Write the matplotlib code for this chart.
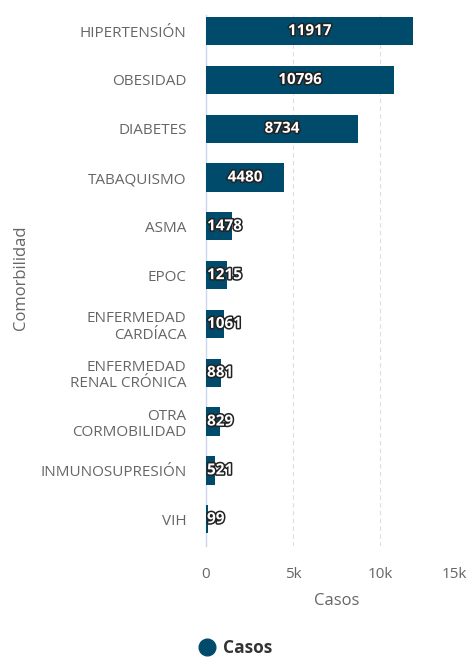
import matplotlib
matplotlib.use("Agg")
import matplotlib.pyplot as plt
import matplotlib.patheffects as pe
from matplotlib.lines import Line2D

categories = ["HIPERTENSIÓN", "OBESIDAD", "DIABETES", "TABAQUISMO", "ASMA", "EPOC",
              "ENFERMEDAD\nCARDÍACA", "ENFERMEDAD\nRENAL CRÓNICA", "OTRA\nCORMOBILIDAD",
              "INMUNOSUPRESIÓN", "VIH"]
values = [11917, 10796, 8734, 4480, 1478, 1215, 1061, 881, 829, 521, 99]
xticks = [0, 5000, 10000, 15000]
xticklabels = ["0", "5k", "10k", "15k"]

plt.rcParams['font.family'] = ['Open Sans', 'DejaVu Sans']
bar_color = "#004b6b"
gray = "#666666"

fig = plt.figure(figsize=(4.71, 6.57), dpi=100)
ax = fig.add_axes([206/471, 1-546/657, 261/471, (546-15)/657])

y = list(range(len(categories)))
ax.barh(y, values, height=0.58, color=bar_color, zorder=3)
ax.set_xlim(0, 15000)
ax.set_ylim(10.55, -0.33)

ax.set_yticks(y)
ax.set_yticklabels(categories, fontsize=11, color=gray, linespacing=1.15)
ax.set_xticks(xticks)
ax.set_xticklabels(xticklabels, fontsize=11, color=gray)
ax.get_xticklabels()[-1].set_horizontalalignment("right")
ax.tick_params(axis='y', length=0, pad=14)
ax.tick_params(axis='x', length=0, pad=15)

for s in ["top", "right", "bottom"]:
    ax.spines[s].set_visible(False)
ax.spines["left"].set_color("#ccd6eb")
ax.spines["left"].set_linewidth(1)

for xt in xticks[1:]:
    ax.axvline(xt, color="#dddddd", linestyle=(0, (4, 3)), linewidth=0.8, zorder=1)

ax.set_xlabel("Casos", fontsize=12, color=gray, labelpad=8)
ax.set_ylabel("Comorbilidad", fontsize=12, color=gray)
ax.yaxis.set_label_coords(-0.677, 0.505)

for yi, v in zip(y, values):
    if v > 3000:
        xpos, ha = v / 2, "center"
    else:
        xpos, ha = 60, "left"
    ax.text(xpos, yi, str(v), ha=ha, va="center", fontsize=11, fontweight="bold",
            color="white", zorder=5,
            path_effects=[pe.withStroke(linewidth=2.2, foreground="#222222")])

handle = Line2D([0], [0], marker='o', color='none', markerfacecolor=bar_color,
                markeredgecolor=bar_color, markersize=12)
fig.legend([handle], ["Casos"], loc="center", bbox_to_anchor=(235/471, 1-648/657),
           frameon=False, prop={'weight': 'bold', 'size': 12.5}, labelcolor="#333333",
           handletextpad=0.4, handlelength=1.0)

fig.savefig("out.png", dpi=100)
